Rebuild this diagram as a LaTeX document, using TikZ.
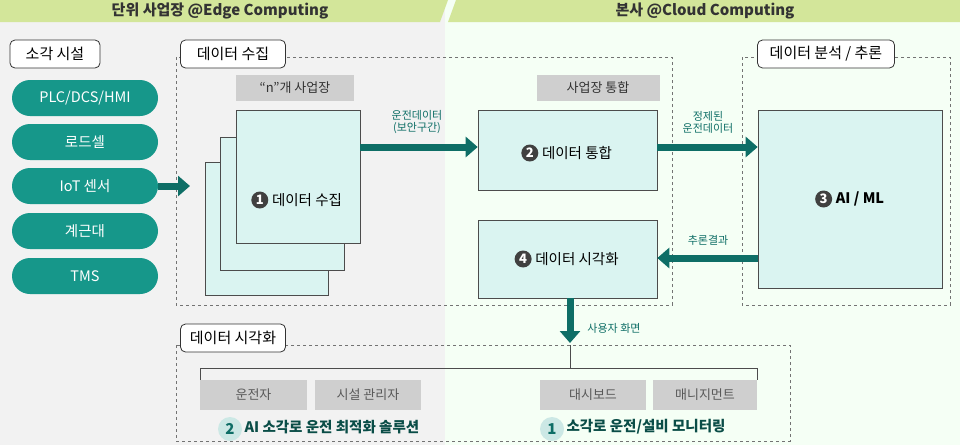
\documentclass[tikz,border=0pt]{standalone}
\usepackage{fontspec}
\setmainfont{Noto Sans CJK KR}
\usetikzlibrary{arrows.meta}
\definecolor{teal1}{HTML}{16978A}
\definecolor{tealD}{HTML}{0E6E66}
\definecolor{lime}{HTML}{D3E69A}
\definecolor{cyanb}{HTML}{DAF4F1}
\definecolor{grayb}{HTML}{CFCFCF}
\begin{document}
\begin{tikzpicture}[x=1pt,y=-1pt,
  pill/.style={fill=teal1,rounded corners=18pt,text=white,font=\fontsize{14.5}{14}\selectfont},
  lbl/.style={draw=black!80,fill=white,rounded corners=5pt,line width=0.8pt,font=\fontsize{15}{15}\selectfont},
  dbox/.style={draw=black!55,dashed,line width=0.6pt},
  cbox/.style={draw=black!70,fill=cyanb,line width=0.6pt},
  gbox/.style={fill=grayb,font=\fontsize{13}{13}\selectfont,text=black!65},
  bigarr/.style={draw=tealD,line width=7pt,-{Triangle[length=12pt,width=20pt]}},
  small/.style={font=\fontsize{11}{12}\selectfont,text=tealD,align=center},
  btxt/.style={font=\fontsize{14.5}{14}\selectfont},
  num/.style={circle,fill=black!75,text=white,inner sep=0pt,minimum size=17pt,font=\bfseries\fontsize{13}{13}\selectfont,anchor=east},
  cnum/.style={circle,fill=teal1!22,text=tealD,inner sep=0pt,minimum size=24pt,font=\bfseries\fontsize{15}{15}\selectfont},
  ctxt/.style={anchor=west,font=\bfseries\fontsize{14.5}{14}\selectfont,text=tealD!70!black}]
\useasboundingbox (0,0) rectangle (960,445);
\fill[black!5] (0,0) rectangle (445,445);
\fill[green!4] (445,0) rectangle (960,445);
\fill[lime] (0,0) -- (448,0) -- (440,22) -- (0,22) -- cycle;
\fill[lime] (456,0) -- (960,0) -- (960,22) -- (448,22) -- cycle;
\node[font=\bfseries\fontsize{15}{15}\selectfont,text=black!80] (t1) at (220,11) {단위 사업장 @Edge Computing};
\node[font=\bfseries\fontsize{15}{15}\selectfont,text=black!80] (t2) at (705,11) {본사 @Cloud Computing};
% left
\node[lbl,minimum width=90pt,minimum height=28pt] (sg) at (55,54) {소각 시설};
\foreach \n/\y/\t in {p1/98/{PLC/DCS/HMI},p2/142/로드셀,p3/186/IoT 센서,p4/231/계근대,p5/276/TMS}
  \node[pill,minimum width=146pt,minimum height=36pt] (\n) at (85,\y) {\t};
% dashed regions
\draw[dbox] (176,57) rectangle (672,305);
\draw[dbox] (742,57) rectangle (950,305);
\draw[dbox] (176,345) rectangle (790,441);
\node[lbl,minimum width=105pt,minimum height=28pt] (l1) at (233,54) {데이터 수집};
\node[lbl,minimum width=137pt,minimum height=28pt] (l2) at (826,54) {데이터 분석 / 추론};
\node[lbl,minimum width=105pt,minimum height=28pt] (l3) at (233,338) {데이터 시각화};
\coordinate (iotend) at (190,186);
\draw[bigarr] (p3.east) -- (iotend);
% stack
\node[gbox,minimum width=118pt,minimum height=26pt,text=black!80] (g1) at (295,88) {“n”개 사업장};
\node[gbox,minimum width=123pt,minimum height=26pt,text=black!80] (g2) at (598,88) {사업장 통합};
\draw[cbox] (205,162) rectangle (328,295);
\draw[cbox] (220,137) rectangle (344,270);
\node[cbox,minimum width=124pt,minimum height=133pt] (b1) at (298,176.5) {};
\node[btxt] (b1t) at (307,200) {데이터 수집};
\node[num] (n1) at (b1t.west) {1};
\node[cbox,minimum width=179pt,minimum height=80pt] (b2) at (567.5,150) {};
\node[btxt] (b2t) at (577,153) {데이터 통합};
\node[num] (n2) at (b2t.west) {2};
\node[cbox,minimum width=179pt,minimum height=78pt] (b4) at (567.5,259) {};
\node[btxt] (b4t) at (577,259) {데이터 시각화};
\node[num] (n4) at (b4t.west) {4};
\node[cbox,minimum width=184pt,minimum height=178pt] (b3) at (850,199) {};
\node[btxt,font=\bfseries\fontsize{14.5}{14}\selectfont] (b3t) at (860,199) {AI / ML};
\node[num] (n3) at (b3t.west) {3};
\draw[bigarr] (b1.east |- 0,147) -- (b2.west |- 0,147);
\node[small] (a1) at (417,122) {운전데이터\\(보안구간)};
\draw[bigarr] (b2.east |- 0,147) -- (b3.west |- 0,147);
\node[small] (a2) at (708,122) {정제된\\운전데이터};
\draw[bigarr] (b3.west |- 0,258) -- (b4.east |- 0,258);
\node[small] (a3) at (708,240) {추론결과};
\coordinate (dn) at (570,343);
\draw[bigarr] (b4.south -| 570,0) -- (dn);
\node[small] (a4) at (614,328) {사용자 화면};
% bottom
\draw[black!70,line width=0.8pt] (570,345) -- (570,368);
\draw[black!70,line width=0.8pt] (200,380) -- (200,368) -- (757,368) -- (757,380);
\node[gbox,minimum width=107pt,minimum height=30pt] (u1) at (253.5,395) {운전자};
\node[gbox,minimum width=106pt,minimum height=30pt] (u2) at (368,395) {시설 관리자};
\node[gbox,minimum width=106pt,minimum height=30pt] (u3) at (593,395) {대시보드};
\node[gbox,minimum width=104pt,minimum height=30pt] (u4) at (705,395) {매니지먼트};
\node[cnum] (c2) at (230,429) {2};
\node[ctxt] (c2t) at (241,427) {AI 소각로 운전 최적화 솔루션};
\node[cnum] (c1) at (552,429) {1};
\node[ctxt] (c1t) at (563,427) {소각로 운전/설비 모니터링};
\end{tikzpicture}
\end{document}
